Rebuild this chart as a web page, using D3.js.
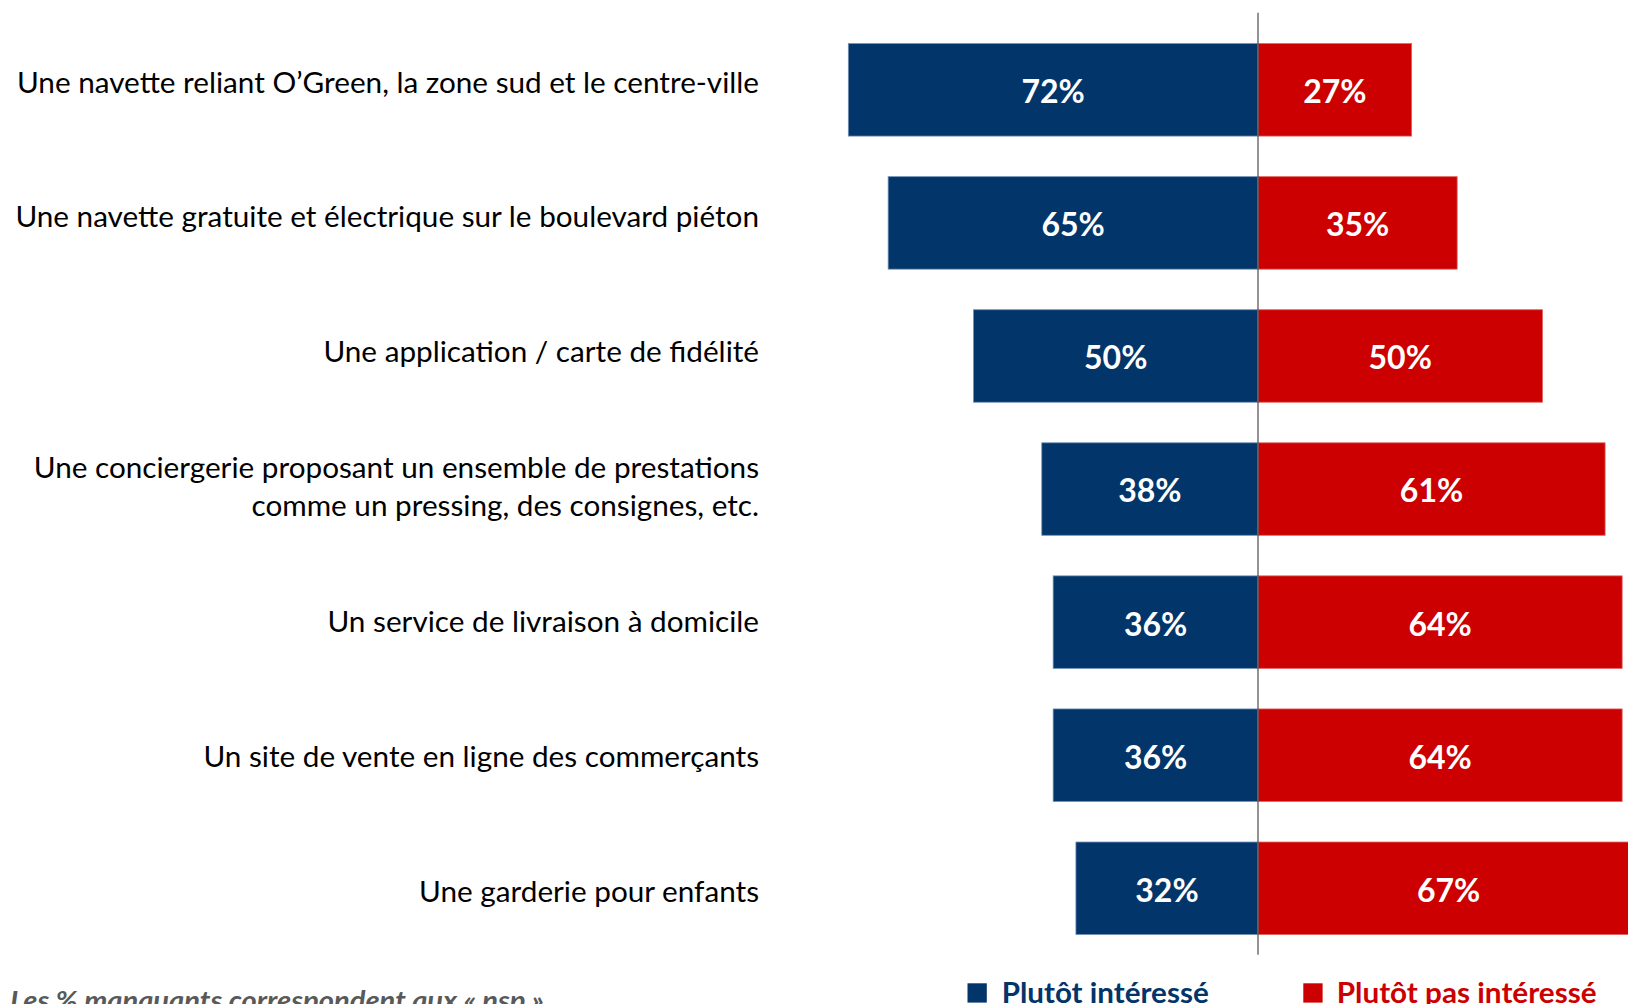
<!DOCTYPE html>
<html>
<head>
<meta charset="utf-8">
<script src="https://cdn.jsdelivr.net/npm/d3@7"></script>
<style>
  html, body { margin: 0; padding: 0; background: #ffffff; overflow: hidden; }
  svg { display: block; }
</style>
</head>
<body>
<svg id="chart" width="1628" height="1004"></svg>
<script>
// ---- Data ----
const categories = [
  "Une navette reliant O’Green, la zone sud et le centre-ville",
  "Une navette gratuite et électrique sur le boulevard piéton",
  "Une application / carte de fidélité",
  "Une conciergerie proposant un ensemble de prestations\ncomme un pressing, des consignes, etc.",
  "Un service de livraison à domicile",
  "Un site de vente en ligne des commerçants",
  "Une garderie pour enfants"
];
const interesse = [72, 65, 50, 38, 36, 36, 32];
const pasInteresse = [27, 35, 50, 61, 64, 64, 67];
const seriesNames = ["Plutôt intéressé", "Plutôt pas intéressé"];
const footnote = "Les % manquants correspondent aux « nsp »";

// ---- Styles ----
const BLUE = "#02356A";
const RED = "#CC0000";

const svg = d3.select("#chart");

const x = d3.scaleLinear().domain([-100, 100]).range([689, 1827]);
const y = d3.scaleBand().domain(categories).range([23.3, 954.8])
  .paddingInner(0.305).paddingOuter(0.1525);
const yLabel = d3.scalePoint().domain(categories).range([82, 891]);

const rows = categories.map((c, i) => ({ cat: c, a: interesse[i], b: pasInteresse[i] }));

// Bars
const g = svg.append("g");
g.selectAll("rect.blue").data(rows).join("rect")
  .attr("class", "blue")
  .attr("x", d => x(-d.a))
  .attr("y", d => y(d.cat))
  .attr("width", d => x(0) - x(-d.a))
  .attr("height", y.bandwidth())
  .attr("fill", BLUE)
  .attr("stroke", "#6f8fb5").attr("stroke-width", 0.8);

g.selectAll("rect.red").data(rows).join("rect")
  .attr("class", "red")
  .attr("x", x(0))
  .attr("y", d => y(d.cat))
  .attr("width", d => x(d.b) - x(0))
  .attr("height", y.bandwidth())
  .attr("fill", RED)
  .attr("stroke", "#e06060").attr("stroke-width", 0.8);

// Center line
svg.append("line")
  .attr("x1", x(0)).attr("x2", x(0))
  .attr("y1", 12.7).attr("y2", 954.7)
  .attr("stroke", "#5a5a5a").attr("stroke-width", 1.3);

// Value labels
const valStyle = sel => sel
  .attr("fill", "#ffffff")
  .attr("font-family", "Lato, 'Open Sans', sans-serif")
  .attr("font-weight", "bold")
  .attr("font-size", 32)
  .attr("text-anchor", "middle")
  .attr("dy", "0.42em");

g.selectAll("text.va").data(rows).join("text")
  .attr("class", "va")
  .attr("x", d => (x(-d.a) + x(0)) / 2)
  .attr("y", d => y(d.cat) + y.bandwidth() / 2)
  .text(d => d.a + "%")
  .call(valStyle);

g.selectAll("text.vb").data(rows).join("text")
  .attr("class", "vb")
  .attr("x", d => (x(0) + x(d.b)) / 2)
  .attr("y", d => y(d.cat) + y.bandwidth() / 2)
  .text(d => d.b + "%")
  .call(valStyle);

// Category labels
const labelRight = 759;
const lineH = 38.7;
rows.forEach(d => {
  const lines = d.cat.split("\n");
  const c = yLabel(d.cat);
  lines.forEach((ln, j) => {
    const cy = c + (j - (lines.length - 1) / 2) * lineH;
    svg.append("text")
      .attr("x", labelRight)
      .attr("y", cy + 10.5)
      .attr("text-anchor", "end")
      .attr("font-family", "Lato, 'Open Sans', sans-serif")
      .attr("font-size", 29.7)
      .attr("fill", "#000000")
      .text(ln);
  });
});

// Legend
const legend = [
  { name: seriesNames[0], color: BLUE, sx: 967.5, tx: 1001.7, w: 207 },
  { name: seriesNames[1], color: RED, sx: 1303.3, tx: 1336.7, w: 260 }
];
legend.forEach(l => {
  svg.append("rect")
    .attr("x", l.sx).attr("y", 983.3)
    .attr("width", 19.3).attr("height", 19.3)
    .attr("fill", l.color);
  svg.append("text")
    .attr("x", l.tx).attr("y", 1002.5)
    .attr("font-family", "Lato, 'Open Sans', sans-serif")
    .attr("font-weight", "bold")
    .attr("font-size", 28)
    .attr("fill", l.color)
    .attr("textLength", l.w)
    .attr("lengthAdjust", "spacingAndGlyphs")
    .text(l.name);
});

// Footnote
svg.append("text")
  .attr("x", 10)
  .attr("y", 1010)
  .attr("font-family", "Lato, 'Open Sans', sans-serif")
  .attr("font-weight", "bold")
  .attr("font-style", "italic")
  .attr("font-size", 27)
  .attr("fill", "#595959")
  .attr("textLength", 534)
  .attr("lengthAdjust", "spacingAndGlyphs")
  .text(footnote);
</script>
</body>
</html>
